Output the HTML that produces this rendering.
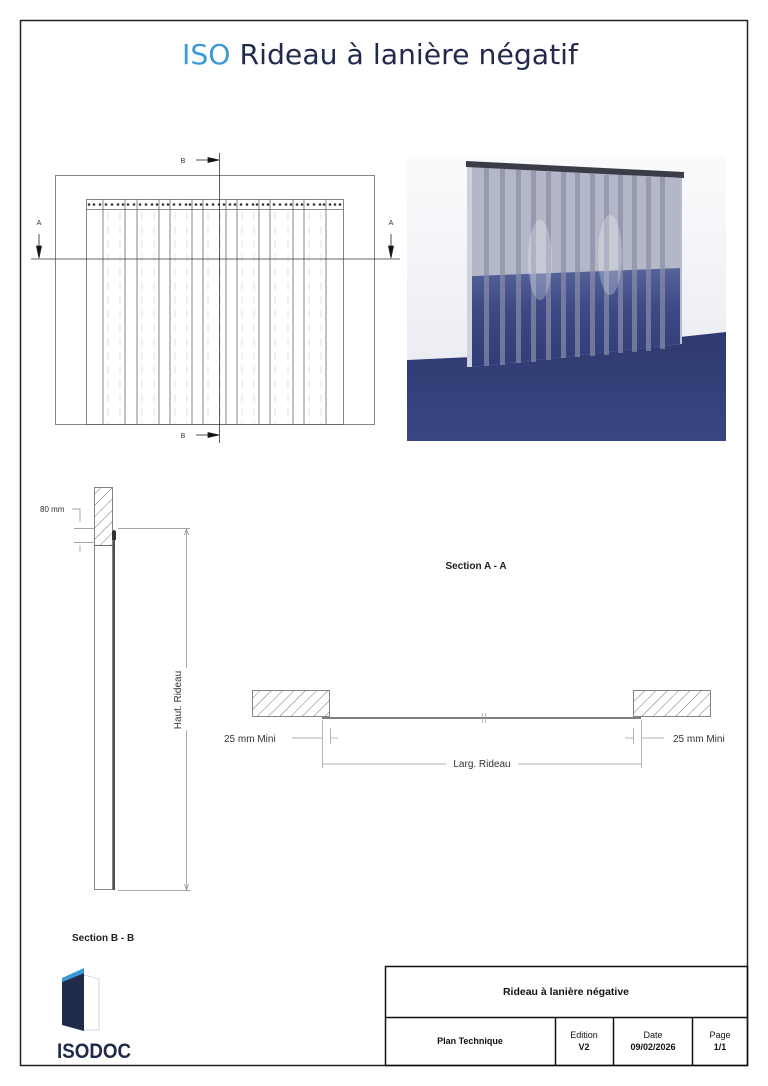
<!DOCTYPE html>
<html><head><meta charset="utf-8"><style>
html,body{margin:0;padding:0;background:#fff}
body{width:768px;height:1086px;position:relative;overflow:hidden;font-family:"Liberation Sans",sans-serif}
svg{position:absolute;left:0;top:0}
</style></head><body>
<svg width="768" height="1086" viewBox="0 0 768 1086" xmlns="http://www.w3.org/2000/svg">
<defs>
<pattern id="hatch" patternUnits="userSpaceOnUse" width="8" height="8" patternTransform="rotate(45)">
<line x1="0" y1="0" x2="0" y2="8" stroke="#555" stroke-width="0.8"/></pattern>
<linearGradient id="wall" x1="0" y1="0" x2="0" y2="1"><stop offset="0" stop-color="#fbfbfd"/><stop offset="1" stop-color="#e6e7ee"/></linearGradient>
<linearGradient id="floor" x1="0" y1="0" x2="0" y2="1"><stop offset="0" stop-color="#2f3a70"/><stop offset="1" stop-color="#3a4682"/></linearGradient>
<linearGradient id="blue" x1="0" y1="0" x2="0" y2="1"><stop offset="0" stop-color="#56649a"/><stop offset="0.4" stop-color="#3d4a86"/><stop offset="1" stop-color="#303c78"/></linearGradient>
</defs>
<rect x="20.5" y="20.5" width="727" height="1045" fill="none" stroke="#222" stroke-width="1.5"/>
<text x="380" y="64" text-anchor="middle" font-family="'DejaVu Sans','Liberation Sans',sans-serif" font-size="28" fill="#1f2a4d" textLength="396" lengthAdjust="spacingAndGlyphs"><tspan fill="#3a9ad9">ISO</tspan> Rideau à lanière négatif</text>

<!-- front view -->
<g stroke="#666" stroke-width="0.8" fill="none">
<rect x="55.5" y="175.5" width="319" height="249"/>
<rect x="86.5" y="199.5" width="257" height="225"/>
<line x1="86" y1="209.5" x2="343" y2="209.5"/>
<g>
<line x1="103" y1="199" x2="103" y2="424"/><line x1="125" y1="199" x2="125" y2="424"/><line x1="137" y1="199" x2="137" y2="424"/><line x1="159" y1="199" x2="159" y2="424"/><line x1="170" y1="199" x2="170" y2="424"/><line x1="192" y1="199" x2="192" y2="424"/><line x1="203" y1="199" x2="203" y2="424"/><line x1="226" y1="199" x2="226" y2="424"/><line x1="237" y1="199" x2="237" y2="424"/><line x1="259" y1="199" x2="259" y2="424"/><line x1="270" y1="199" x2="270" y2="424"/><line x1="293" y1="199" x2="293" y2="424"/><line x1="304" y1="199" x2="304" y2="424"/><line x1="326" y1="199" x2="326" y2="424"/>
</g>
<g stroke="#ccc" stroke-dasharray="8 6" stroke-width="0.6">
<line x1="108" y1="212" x2="108" y2="424"/><line x1="120" y1="212" x2="120" y2="424"/><line x1="142" y1="212" x2="142" y2="424"/><line x1="154" y1="212" x2="154" y2="424"/><line x1="175" y1="212" x2="175" y2="424"/><line x1="187" y1="212" x2="187" y2="424"/><line x1="208" y1="212" x2="208" y2="424"/><line x1="220" y1="212" x2="220" y2="424"/><line x1="242" y1="212" x2="242" y2="424"/><line x1="254" y1="212" x2="254" y2="424"/><line x1="275" y1="212" x2="275" y2="424"/><line x1="288" y1="212" x2="288" y2="424"/><line x1="309" y1="212" x2="309" y2="424"/><line x1="321" y1="212" x2="321" y2="424"/>
</g>
<line x1="31" y1="259" x2="400" y2="259" stroke="#333"/>
<line x1="219.5" y1="153" x2="219.5" y2="443" stroke="#333"/>
</g>
<g fill="#333">
<circle cx="89" cy="204.5" r="1.3"/><circle cx="94" cy="204.5" r="1.3"/><circle cx="100" cy="204.5" r="1.3"/><circle cx="106" cy="204.5" r="1.3"/><circle cx="112" cy="204.5" r="1.3"/><circle cx="118" cy="204.5" r="1.3"/><circle cx="123" cy="204.5" r="1.3"/><circle cx="128" cy="204.5" r="1.3"/><circle cx="134" cy="204.5" r="1.3"/><circle cx="140" cy="204.5" r="1.3"/><circle cx="146" cy="204.5" r="1.3"/><circle cx="152" cy="204.5" r="1.3"/><circle cx="157" cy="204.5" r="1.3"/><circle cx="163" cy="204.5" r="1.3"/><circle cx="168" cy="204.5" r="1.3"/><circle cx="174" cy="204.5" r="1.3"/><circle cx="180" cy="204.5" r="1.3"/><circle cx="186" cy="204.5" r="1.3"/><circle cx="190" cy="204.5" r="1.3"/><circle cx="196" cy="204.5" r="1.3"/><circle cx="201" cy="204.5" r="1.3"/><circle cx="207" cy="204.5" r="1.3"/><circle cx="213" cy="204.5" r="1.3"/><circle cx="219" cy="204.5" r="1.3"/><circle cx="224" cy="204.5" r="1.3"/><circle cx="230" cy="204.5" r="1.3"/><circle cx="235" cy="204.5" r="1.3"/><circle cx="241" cy="204.5" r="1.3"/><circle cx="247" cy="204.5" r="1.3"/><circle cx="253" cy="204.5" r="1.3"/><circle cx="257" cy="204.5" r="1.3"/><circle cx="263" cy="204.5" r="1.3"/><circle cx="268" cy="204.5" r="1.3"/><circle cx="274" cy="204.5" r="1.3"/><circle cx="280" cy="204.5" r="1.3"/><circle cx="286" cy="204.5" r="1.3"/><circle cx="291" cy="204.5" r="1.3"/><circle cx="297" cy="204.5" r="1.3"/><circle cx="302" cy="204.5" r="1.3"/><circle cx="308" cy="204.5" r="1.3"/><circle cx="314" cy="204.5" r="1.3"/><circle cx="320" cy="204.5" r="1.3"/><circle cx="324" cy="204.5" r="1.3"/><circle cx="330" cy="204.5" r="1.3"/><circle cx="335" cy="204.5" r="1.3"/><circle cx="340" cy="204.5" r="1.3"/>
</g>
<g stroke="#222" stroke-width="0.8" fill="#111">
<line x1="196" y1="160" x2="210" y2="160"/><polygon points="208,157.5 219,160 208,162.5"/>
<line x1="196" y1="435" x2="210" y2="435"/><polygon points="208,432.5 219,435 208,437.5"/>
<line x1="39" y1="234" x2="39" y2="248"/><polygon points="36.5,246 39,258 41.5,246"/>
<line x1="391" y1="234" x2="391" y2="248"/><polygon points="388.5,246 391,258 393.5,246"/>
</g>
<g font-size="7" fill="#333" text-anchor="middle">
<text x="183" y="163">B</text><text x="183" y="438">B</text><text x="39" y="225">A</text><text x="391" y="225">A</text>
</g>

<!-- photo -->
<rect x="407" y="155" width="319" height="286" fill="url(#wall)"/>
<polygon points="407,360 472,357 472,367 680,344 680,337 726,332 726,441 407,441" fill="url(#floor)"/>
<rect x="467" y="163" width="6" height="204" fill="#cfd1dc"/>
<rect x="676" y="172" width="6" height="172" fill="#b9bccb"/>
<polygon points="472,166 680,178 680,268 472,276" fill="#b4b7c8"/>
<polygon points="472,276 680,268 680,344 472,367" fill="url(#blue)"/>
<g fill="#8a8ea8" opacity="0.7">
<rect x="484" y="168" width="5" height="198"/><rect x="500" y="169" width="5" height="196"/><rect x="516" y="170" width="5" height="193"/><rect x="531" y="171" width="5" height="191"/><rect x="546" y="172" width="5" height="188"/><rect x="561" y="172" width="5" height="186"/><rect x="575" y="173" width="5" height="184"/><rect x="590" y="174" width="5" height="182"/><rect x="604" y="175" width="5" height="180"/><rect x="618" y="175" width="5" height="178"/><rect x="632" y="176" width="5" height="176"/><rect x="646" y="177" width="5" height="174"/><rect x="660" y="177" width="5" height="172"/>
</g>
<g fill="#fff" opacity="0.25"><ellipse cx="540" cy="260" rx="12" ry="40"/><ellipse cx="610" cy="255" rx="12" ry="40"/></g>
<polygon points="466,161 684,172 684,178 466,167" fill="#3a3d48"/>

<!-- Section B-B -->
<rect x="94.5" y="487.5" width="18" height="58" fill="url(#hatch)" stroke="#666" stroke-width="0.8"/>
<rect x="94.5" y="545.5" width="18" height="344" fill="none" stroke="#666" stroke-width="0.8"/>
<line x1="114" y1="530" x2="114" y2="890" stroke="#222" stroke-width="1.6"/>
<rect x="112" y="531" width="4" height="9" fill="#333"/>
<g stroke="#888" stroke-width="0.7" fill="none">
<line x1="118" y1="528.5" x2="190" y2="528.5"/><line x1="118" y1="890.5" x2="190" y2="890.5"/>
<line x1="186.5" y1="528" x2="186.5" y2="668"/><line x1="186.5" y1="730" x2="186.5" y2="890"/>
<polyline points="184.5,535 186.5,529 188.5,535"/><polyline points="184.5,884 186.5,890 188.5,884"/>
<polyline points="72,509 80,509 80,522"/><line x1="74" y1="528.5" x2="94" y2="528.5"/><line x1="74" y1="542.5" x2="94" y2="542.5"/>
<line x1="80" y1="545" x2="80" y2="552"/>
</g>
<text x="40" y="512" font-size="8" fill="#333">80 mm</text>
<text transform="translate(181,700) rotate(-90)" text-anchor="middle" font-size="10" fill="#333">Haut. Rideau</text>
<text x="72" y="941" font-size="10" font-weight="bold" fill="#222">Section B - B</text>

<!-- Section A-A -->
<text x="476" y="569" text-anchor="middle" font-size="10" font-weight="bold" fill="#222">Section A - A</text>
<rect x="252.5" y="690.5" width="77" height="26" fill="url(#hatch)" stroke="#666" stroke-width="0.8"/>
<rect x="633.5" y="690.5" width="77" height="26" fill="url(#hatch)" stroke="#666" stroke-width="0.8"/>
<line x1="322" y1="718" x2="641" y2="718" stroke="#333" stroke-width="1.3"/>
<g stroke="#999" stroke-width="0.7" fill="none">
<line x1="322.5" y1="720" x2="322.5" y2="768"/><line x1="641.5" y1="720" x2="641.5" y2="768"/>
<line x1="330.5" y1="728" x2="330.5" y2="744"/><line x1="633.5" y1="728" x2="633.5" y2="744"/>
<line x1="292" y1="738" x2="322" y2="738"/><line x1="331" y1="738" x2="338" y2="738"/>
<line x1="625" y1="738" x2="633" y2="738"/><line x1="642" y1="738" x2="664" y2="738"/>
<line x1="323" y1="764" x2="446" y2="764"/><line x1="518" y1="764" x2="641" y2="764"/>
<path d="M482 713 q2 5 0 10 M485 713 q2 5 0 10"/>
</g>
<text x="224" y="742" font-size="10" fill="#333">25 mm Mini</text>
<text x="673" y="742" font-size="10" fill="#333">25 mm Mini</text>
<text x="482" y="767" text-anchor="middle" font-size="10" fill="#333">Larg. Rideau</text>

<!-- logo -->
<polyline points="84,975 99,979 99,1030 84,1030" fill="none" stroke="#ccd" stroke-width="0.8"/>
<polygon points="62,982 84,973 84,1031 62,1025" fill="#1f2a4d"/>
<polygon points="62,978 84,968 84,973 62,982" fill="#3a9ad9"/>
<text x="57" y="1058" font-size="21" font-weight="bold" fill="#1f2a4d" textLength="74" lengthAdjust="spacingAndGlyphs">ISODOC</text>

<!-- title block -->
<g stroke="#111" stroke-width="1.5" fill="none">
<rect x="385.5" y="966.5" width="362" height="99"/>
<line x1="385" y1="1017.5" x2="748" y2="1017.5"/>
<line x1="555.5" y1="1017" x2="555.5" y2="1066"/>
<line x1="613.5" y1="1017" x2="613.5" y2="1066"/>
<line x1="692.5" y1="1017" x2="692.5" y2="1066"/>
</g>
<g text-anchor="middle" fill="#111" font-size="9">
<text x="566" y="995" font-size="10.5" font-weight="bold">Rideau à lanière négative</text>
<text x="470" y="1044" font-weight="bold">Plan Technique</text>
<text x="584" y="1038">Edition</text><text x="584" y="1050" font-weight="bold">V2</text>
<text x="653" y="1038">Date</text><text x="653" y="1050" font-weight="bold">09/02/2026</text>
<text x="720" y="1038">Page</text><text x="720" y="1050" font-weight="bold">1/1</text>
</g>
</svg>
</body></html>
